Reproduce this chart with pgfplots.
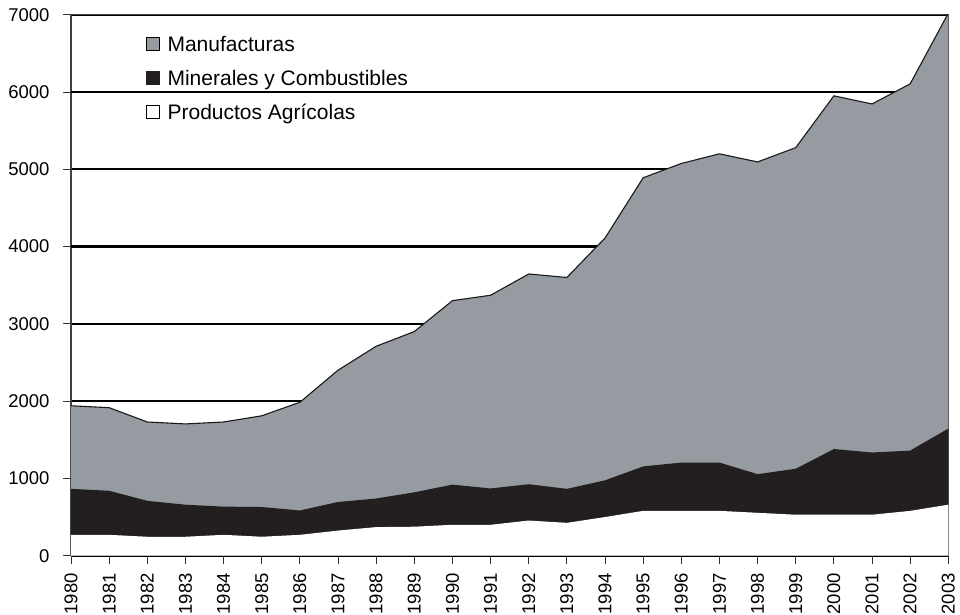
\documentclass[border=0pt]{standalone}
\usepackage{pgfplots}
\pgfplotsset{compat=1.18}
\usepackage{pgfplotstable}
\usepackage{fontspec}
\setmainfont{Liberation Sans}
\definecolor{manuf}{RGB}{149,155,161}
\definecolor{minblk}{RGB}{35,31,32}
\pgfplotstableread{
year agri min manuf
1980 270 595 1075
1981 270 570 1075
1982 245 465 1020
1983 245 415 1045
1984 270 365 1095
1985 245 385 1180
1986 270 315 1400
1987 325 370 1705
1988 370 370 1970
1989 375 445 2080
1990 400 520 2380
1991 400 470 2500
1992 455 470 2720
1993 425 440 2735
1994 500 475 3135
1995 580 575 3735
1996 580 625 3870
1997 580 625 3995
1998 555 500 4040
1999 530 595 4155
2000 530 850 4570
2001 530 805 4510
2002 580 780 4745
2003 660 985 5375
}\datatable
\begin{document}
\begin{tikzpicture}
\useasboundingbox (-71pt,-59.3pt) rectangle (889pt,555.7pt);
\begin{axis}[
  at={(0pt,0pt)}, anchor=south west,
  scale only axis, width=877.3pt, height=541pt,
  xmin=1980, xmax=2003, ymin=0, ymax=7000,
  xtick={1980,...,2003}, ytick={0,1000,...,7000},
  /pgf/number format/1000 sep={},
  /pgf/number format/assume math mode=true,
  tick label style={font=\fontsize{18.5}{20}\selectfont},
  xticklabel style={rotate=90, anchor=east},
  xticklabel shift=6pt, yticklabel shift=10pt,
  tick align=outside, major tick length=8pt,
  xtick pos=bottom, ytick pos=left,
  tick style={black!80, line width=0.8pt},
  ymajorgrids, grid style={black, line width=1.6pt},
  extra y ticks={4000,6000}, extra y tick labels={},
  extra y tick style={grid style={black, line width=2.6pt}, major tick length=0pt},
  axis line style={black!75, line width=1.2pt},
  legend style={at={(0.085,0.962)}, anchor=north west, draw=none, fill=none,
    inner sep=0pt, row sep=15pt, column sep=7pt, font=\fontsize{21}{23}\selectfont,
    nodes={inner sep=1pt}},
  legend cell align=left,
]
\addplot[fill=manuf, draw=none,
  legend image code/.code={\draw[fill=manuf, draw=black, line width=0.8pt] (0pt,-6pt) rectangle (13pt,7pt);}]
  table[x=year, y expr=\thisrow{agri}+\thisrow{min}+\thisrow{manuf}] {\datatable} \closedcycle;
\addlegendentry{Manufacturas}
\addplot[fill=minblk, draw=none,
  legend image code/.code={\draw[fill=minblk, draw=minblk, line width=0.8pt] (0pt,-6pt) rectangle (13pt,7pt);}]
  table[x=year, y expr=\thisrow{agri}+\thisrow{min}] {\datatable} \closedcycle;
\addlegendentry{Minerales y Combustibles}
\addplot[fill=white, draw=none,
  legend image code/.code={\draw[fill=white, draw=black, line width=0.8pt] (0pt,-6pt) rectangle (13pt,7pt);}]
  table[x=year, y=agri] {\datatable} \closedcycle;
\addlegendentry{Productos Agrícolas}
\addplot[draw=black!90, line width=1.1pt, forget plot]
  table[x=year, y expr=\thisrow{agri}+\thisrow{min}+\thisrow{manuf}] {\datatable};
\end{axis}
\end{tikzpicture}
\end{document}
